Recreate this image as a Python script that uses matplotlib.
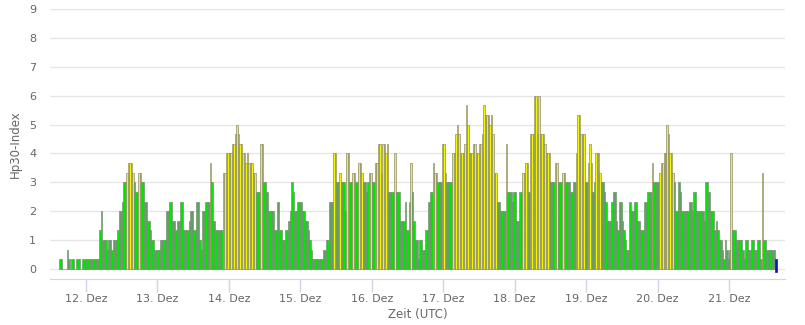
import matplotlib
matplotlib.use("Agg")
import matplotlib.pyplot as plt
import numpy as np

# Hp30 in thirds of a unit (3 -> 1.0, 10 -> 3.33 ...), one value per 30 minutes
dec11 = [1, 1, 0, 0, 0, 2, 1, 0, 1, 1, 0, 1, 1, 1, 0, 1, 1, 1]  # from 15:00 UTC
dec12 = [1, 1, 1, 1, 1, 1, 1, 1, 1, 4, 6, 3, 3, 3, 2, 3, 3, 2, 3, 3,
         3, 4, 6, 6, 7, 9, 9, 10, 11, 11, 11, 10, 9, 8, 8, 10, 10, 9, 9, 7,
         7, 5, 5, 4, 3, 3, 2, 2]
dec13 = [2, 2, 3, 3, 3, 3, 6, 6, 7, 7, 5, 5, 4, 5, 5, 7, 7, 4, 4, 4,
         4, 5, 6, 6, 4, 4, 7, 7, 3, 2, 6, 6, 7, 7, 7, 11, 9, 5, 5, 4,
         4, 4, 4, 4, 10, 10, 12, 12]
dec14 = [12, 12, 13, 13, 14, 15, 14, 13, 13, 12, 12, 11, 12, 11, 11, 11, 10, 10, 8, 8,
         8, 13, 13, 9, 9, 8, 6, 6, 6, 6, 4, 4, 7, 7, 4, 4, 3, 3, 4, 4,
         5, 6, 9, 8, 6, 6, 7, 7]
dec15 = [7, 6, 6, 5, 5, 4, 3, 2, 1, 1, 1, 1, 1, 1, 1, 2, 2, 3, 3, 7,
         7, 7, 12, 12, 9, 9, 10, 9, 9, 9, 6, 12, 12, 9, 9, 10, 10, 9, 9, 11,
         11, 10, 9, 9, 8, 9, 10, 10]
dec16 = [9, 9, 11, 11, 13, 13, 10, 13, 13, 12, 13, 8, 8, 8, 8, 12, 8, 8, 8, 5,
         5, 5, 7, 4, 4, 7, 11, 8, 5, 3, 3, 1, 3, 3, 2, 2, 4, 4, 7, 8,
         8, 11, 10, 10, 9, 9, 9, 13]
dec17 = [13, 10, 9, 9, 9, 9, 12, 12, 14, 15, 14, 12, 12, 12, 13, 17, 15, 12, 12, 12,
         13, 13, 12, 12, 13, 13, 14, 17, 16, 16, 16, 15, 16, 14, 10, 10, 7, 7, 6, 6,
         6, 6, 13, 8, 8, 8, 7, 8]
dec18 = [8, 5, 5, 8, 8, 10, 10, 11, 11, 8, 14, 14, 14, 18, 18, 14, 18, 14, 14, 14,
         13, 12, 12, 12, 9, 9, 9, 11, 11, 9, 9, 9, 10, 10, 9, 9, 9, 8, 8, 9,
         9, 12, 16, 16, 14, 14, 14, 9]
dec19 = [9, 11, 13, 11, 8, 9, 12, 12, 12, 10, 9, 9, 8, 7, 5, 5, 5, 7, 8, 8,
         5, 4, 7, 7, 5, 4, 3, 2, 2, 7, 6, 6, 7, 7, 5, 5, 4, 4, 4, 7,
         7, 8, 8, 8, 11, 9, 9, 9]
dec20 = [9, 10, 11, 11, 12, 12, 15, 14, 12, 12, 10, 9, 6, 6, 9, 8, 6, 6, 6, 6,
         6, 7, 7, 6, 8, 8, 6, 6, 6, 6, 6, 5, 9, 9, 8, 6, 6, 6, 4, 5,
         4, 3, 3, 2, 1, 3, 2, 1]
dec21 = [2, 12, 4, 4, 4, 3, 3, 3, 3, 2, 1, 3, 3, 2, 2, 3, 3, 2, 2, 3,
         3, 1, 10, 3, 3, 2, 2, 2, 2, 2, 2]
nowcast = 1  # last half hour, still preliminary

day_ticks = [12, 13, 14, 15, 16, 17, 18, 19, 20, 21]
day_labels = ["%d. Dez" % d for d in day_ticks]

hp30 = np.array(dec11 + dec12 + dec13 + dec14 + dec15 + dec16 +
                dec17 + dec18 + dec19 + dec20 + dec21) / 3.0
start = 11 + 15 / 24.0
step = 1 / 48.0
t = start + np.arange(len(hp30)) * step
colors = np.where(hp30 > 3.0, "#f5f500", "#00e800")

fig = plt.figure(figsize=(8.05, 3.25), dpi=100)
ax = fig.add_axes([50 / 805, 46 / 325, 735 / 805, 270 / 325])

ax.bar(t, hp30, width=step, align="edge", color=colors,
       edgecolor="#808080", linewidth=0.45, zorder=2)
ax.bar(t[-1] + step, nowcast / 3.0 + 0.1, bottom=-0.1, width=step,
       align="edge", color="#1010d0", edgecolor="#1010d0", linewidth=0.5, zorder=3)

ax.set_xlim(11.496, 21.784)
ax.set_ylim(-0.35, 9)
ax.set_yticks(range(0, 10))
ax.set_xticks(day_ticks)
ax.set_xticklabels(day_labels)

ax.grid(axis="y", color="#e6e6e6", linewidth=1, zorder=0)
for s in ["top", "right", "left"]:
    ax.spines[s].set_visible(False)
ax.spines["bottom"].set_color("#ccd6eb")
ax.tick_params(axis="y", length=0, pad=10, labelsize=8, labelcolor="#666666")
ax.tick_params(axis="x", length=9, width=1, color="#ccd6eb", pad=2,
               labelsize=8, labelcolor="#666666")

ax.set_ylabel("Hp30-Index", fontsize=8.5, color="#666666", labelpad=5)
ax.set_xlabel("Zeit (UTC)", fontsize=8.5, color="#666666", labelpad=3)

fig.savefig("out.png", dpi=100)
